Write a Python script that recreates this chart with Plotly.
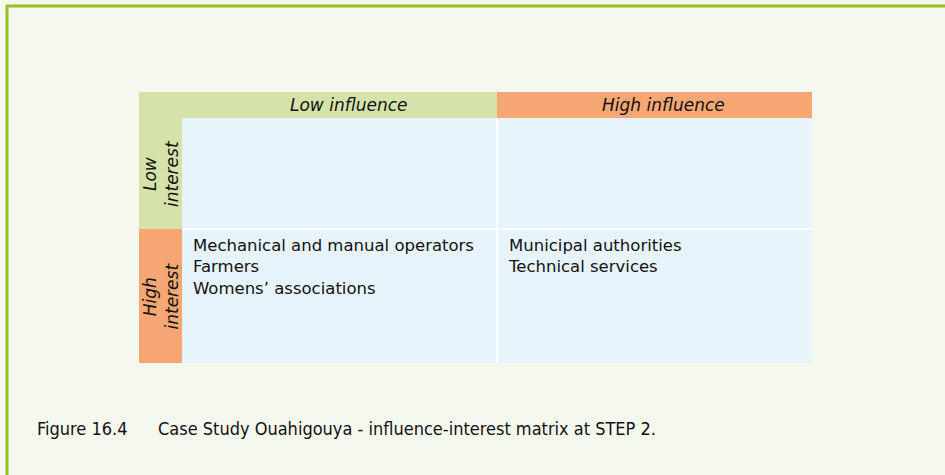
import plotly.graph_objects as go

# ---- data ----
col_labels = ["Low influence", "High influence"]
row_labels = ["Low<br>interest", "High<br>interest"]
col_colors = ["#d5e3aa", "#f7a774"]
row_colors = ["#d5e3aa", "#f7a774"]
cell_items = [
    [[], []],
    [["Mechanical and manual operators", "Farmers", "Womens’ associations"],
     ["Municipal authorities", "Technical services"]],
]
caption_number = "Figure 16.4"
caption_text = "Case Study Ouahigouya - influence-interest matrix at STEP 2."

# ---- layout constants ----
W, H = 945, 475
BG = "#f5f8ee"
CELL = "#e8f4fc"
BORDER = "#93c11f"
FONT = "DejaVu Sans"
CAP_FONT = "Liberation Sans Narrow, DejaVu Sans Condensed, sans-serif"
HEAD_W = 43 / 315          # width of row-header column in column units
HEAD_H = 26                # header row height in y units
ROW_EDGES = [0, 111, 245]  # row boundaries in y units

fig = go.Figure()
# invisible trace to anchor axes
fig.add_trace(go.Scatter(x=[0, 2], y=[0, ROW_EDGES[-1]], mode="markers",
                         marker=dict(opacity=0), hoverinfo="skip", showlegend=False))

shapes = []
annotations = []

# column headers
for j, (lab, colr) in enumerate(zip(col_labels, col_colors)):
    x0 = j if j > 0 else -HEAD_W
    shapes.append(dict(type="rect", xref="x", yref="y", x0=x0, x1=j + 1,
                       y0=-HEAD_H, y1=0, fillcolor=colr, line_width=0, layer="below"))
    annotations.append(dict(xref="x", yref="y", x=j + 0.5, y=-HEAD_H / 2,
                            text=f"<i>{lab}</i>", showarrow=False, xshift=9,
                            font=dict(family=FONT, size=17, color="#111111"),
                            xanchor="center", yanchor="middle"))

# row headers and cells
for i, (lab, colr) in enumerate(zip(row_labels, row_colors)):
    y0, y1 = ROW_EDGES[i], ROW_EDGES[i + 1]
    shapes.append(dict(type="rect", xref="x", yref="y", x0=-HEAD_W, x1=0,
                       y0=y0, y1=y1, fillcolor=colr, line_width=0, layer="below"))
    annotations.append(dict(xref="x", yref="y", x=-HEAD_W / 2, y=(y0 + y1) / 2,
                            text=f"<i>{lab}</i>", showarrow=False, textangle=-90,
                            font=dict(family=FONT, size=17, color="#111111"),
                            xanchor="center", yanchor="middle"))
    for j in range(len(col_labels)):
        shapes.append(dict(type="rect", xref="x", yref="y", x0=j, x1=j + 1,
                           y0=y0, y1=y1, fillcolor=CELL, line_width=0, layer="below"))
        items = cell_items[i][j]
        if items:
            annotations.append(dict(xref="x", yref="y", x=j, y=y0,
                                    text="<br>".join(items), showarrow=False,
                                    align="left", xanchor="left", yanchor="top",
                                    xshift=9, yshift=-5,
                                    font=dict(family=FONT, size=16.5, color="#111111")))

# white separators between cells
shapes.append(dict(type="line", xref="x", yref="y", x0=1, x1=1, y0=0, y1=ROW_EDGES[-1],
                   line=dict(color="white", width=2)))
for e in ROW_EDGES[1:-1]:
    shapes.append(dict(type="line", xref="x", yref="y", x0=0, x1=2, y0=e, y1=e,
                       line=dict(color="white", width=2)))

# green frame (top and left)
shapes.append(dict(type="line", xref="paper", yref="paper", x0=6 / W, x1=1,
                   y0=1 - 6 / H, y1=1 - 6 / H, line=dict(color=BORDER, width=3)))
shapes.append(dict(type="line", xref="paper", yref="paper", x0=7 / W, x1=7 / W,
                   y0=0, y1=1 - 5 / H, line=dict(color=BORDER, width=3)))

# caption
annotations.append(dict(xref="paper", yref="paper", x=35 / W, y=1 - 428 / H,
                        text=caption_number, showarrow=False, xanchor="left", yanchor="middle",
                        font=dict(family=CAP_FONT, size=18, color="#111111")))
annotations.append(dict(xref="paper", yref="paper", x=156 / W, y=1 - 428 / H,
                        text=caption_text, showarrow=False, xanchor="left", yanchor="middle",
                        font=dict(family=CAP_FONT, size=18, color="#111111")))

fig.update_layout(
    width=W, height=H, margin=dict(l=0, r=0, t=0, b=0),
    paper_bgcolor=BG, plot_bgcolor=BG,
    shapes=shapes, annotations=annotations,
    xaxis=dict(domain=[139 / W, 812 / W], range=[-HEAD_W, 2], visible=False, fixedrange=True),
    yaxis=dict(domain=[1 - 363 / H, 1 - 92 / H], range=[ROW_EDGES[-1], -HEAD_H],
               visible=False, fixedrange=True),
    showlegend=False,
)

fig.write_html("out.html", config={"displayModeBar": False},
               post_script="document.body.style.margin='0';document.body.style.background='" + BG + "';")
